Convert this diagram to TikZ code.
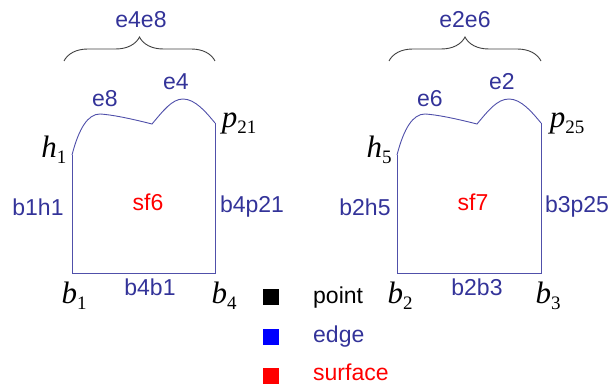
\documentclass[tikz,border=0pt]{standalone}
\usepackage{fontspec}
\setmainfont{Liberation Sans}
\newfontfamily\tms{Liberation Serif}
\usetikzlibrary{decorations.pathreplacing}
\definecolor{edgecol}{RGB}{51,51,153}
\definecolor{linecol}{RGB}{80,80,170}
\tikzset{
  lbl/.style={text=edgecol,font=\fontsize{23}{26}\selectfont,inner sep=0pt},
  surf/.style={text=red,font=\fontsize{23}{26}\selectfont,inner sep=0pt},
  pt/.style={text=black,font=\fontsize{31}{33}\tms\itshape,inner sep=0pt},
  outline/.style={draw=linecol,line width=0.9pt},
  bracestyle/.style={draw=black!75,line width=0.9pt,decorate,decoration={brace,amplitude=24pt}},
  legsq/.style={minimum size=16pt,inner sep=0pt},
  legtxt/.style={font=\fontsize{23}{26}\selectfont,inner sep=0pt,anchor=base west}
}
\newcommand{\ptl}[2]{#1\raisebox{-0.45ex}{\fontsize{19}{21}\selectfont\upshape #2}}
\begin{document}
\begin{tikzpicture}[x=1pt,y=-1pt]
\useasboundingbox (0,0) rectangle (614,385);
% ---------- left face ----------
\coordinate (h1) at (72,155);
\coordinate (m1) at (152,124);
\coordinate (p21) at (215,123);
\coordinate (b1) at (72,273);
\coordinate (b4) at (215,273);
\draw[outline] (h1) .. controls (79,128) and (88,114) .. (100,114)
  .. controls (116,115) and (140,121) .. (m1)
  .. controls (163,111) and (172,99) .. (183,99)
  .. controls (195,99) and (206,112) .. (p21);
\draw[outline] (p21) -- (b4) -- (b1) -- (h1);
\node[lbl] (e8) at (105,99) {e8};
\node[lbl] (e4) at (176,82) {e4};
\node[pt] (lh1) at (54,150) {\ptl{h}{1}};
\node[pt] (lp21) at (239,123) {\ptl{p}{21}};
\node[lbl] (b1h1) at (38,207) {b1h1};
\node[surf] (sf6) at (148,202) {sf6};
\node[lbl] (b4p21) at (252,207) {b4p21};
\node[pt] (lb1) at (74,296) {\ptl{b}{1}};
\node[lbl] (b4b1) at (150,287) {b4b1};
\node[pt] (lb4) at (224,296) {\ptl{b}{4}};
\coordinate (brL1) at (64,61);
\coordinate (brR1) at (215,61);
\draw[bracestyle] (brL1) -- (brR1);
\node[lbl] (e4e8) at (141,20) {e4e8};
% ---------- right face ----------
\coordinate (h5) at (397,155);
\coordinate (m2) at (477,124);
\coordinate (p25) at (541,123);
\coordinate (b2) at (397,273);
\coordinate (b3) at (541,273);
\draw[outline] (h5) .. controls (404,128) and (413,114) .. (425,114)
  .. controls (441,115) and (465,121) .. (m2)
  .. controls (488,111) and (497,99) .. (509,99)
  .. controls (521,99) and (532,112) .. (p25);
\draw[outline] (p25) -- (b3) -- (b2) -- (h5);
\node[lbl] (e6) at (430,99) {e6};
\node[lbl] (e2) at (502,82) {e2};
\node[pt] (lh5) at (379,150) {\ptl{h}{5}};
\node[pt] (lp25) at (567,123) {\ptl{p}{25}};
\node[lbl] (b2h5) at (365,207) {b2h5};
\node[surf] (sf7) at (473,202) {sf7};
\node[lbl] (b3p25) at (577,207) {b3p25};
\node[pt] (lb2) at (400,296) {\ptl{b}{2}};
\node[lbl] (b2b3) at (477,287) {b2b3};
\node[pt] (lb3) at (548,296) {\ptl{b}{3}};
\coordinate (brL2) at (389,61);
\coordinate (brR2) at (541,61);
\draw[bracestyle] (brL2) -- (brR2);
\node[lbl] (e2e6) at (465,20) {e2e6};
% ---------- legend ----------
\node[legsq,fill=black] (sqp) at (271,297) {};
\node[legsq,fill=blue] (sqe) at (271,337) {};
\node[legsq,fill=red] (sqs) at (271,376) {};
\node[legtxt,text=black] (tp) at (313,303) {point};
\node[legtxt,text=edgecol] (te) at (313,342) {edge};
\node[legtxt,text=red] (ts) at (313,381) {surface};
\end{tikzpicture}
\end{document}
